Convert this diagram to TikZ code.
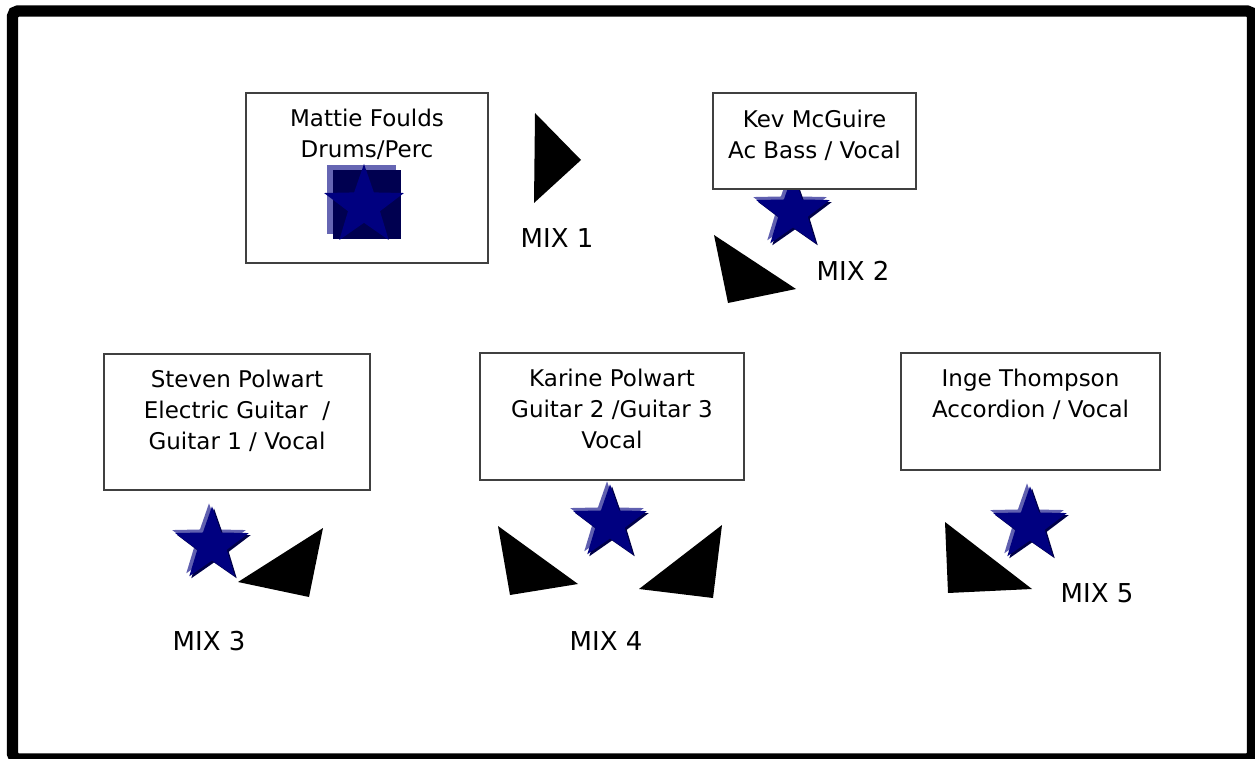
\documentclass[tikz,border=0pt]{standalone}
\usepackage{fontspec}
\setmainfont{DejaVu Sans}
\usepackage{xcolor}
\usetikzlibrary{shapes.geometric, positioning}
\definecolor{starblue}{RGB}{0,0,128}
\definecolor{starlight}{RGB}{96,96,176}
\definecolor{stardark}{RGB}{0,0,72}
\definecolor{padblue}{RGB}{0,0,80}
\definecolor{padlight}{RGB}{102,102,179}
\newcommand{\vocstar}[3]{%
  \node[st,fill=starlight] (#1l) at (#2-3,#3-3) {};
  \node[st,fill=stardark] (#1d) at (#2+2,#3+2) {};
  \node[st] (#1) at (#2,#3) {};}

\begin{document}
\begin{tikzpicture}[x=0.75pt,y=-0.75pt]
\tikzset{
  pb/.style={rectangle,draw=black!75,fill=white,line width=0.9pt,inner sep=0},
  pt/.style={align=center,inner sep=0,font=\fontsize{17.25}{23.25}\selectfont},
  mx/.style={inner sep=0,font=\fontsize{19.5}{23}\selectfont},
  st/.style={star,star points=5,star point ratio=2.5,minimum size=58pt,inner sep=0,fill=starblue},
  wedge/.style={fill=black}
}
\useasboundingbox (0,0) rectangle (1255,759);
\draw[line width=8.5pt,rounded corners=4pt] (12.5,11) rectangle (1252.5,759);
% vocal mics
\vocstar{kevstar}{793}{212}
\vocstar{stevenstar}{212}{545}
\vocstar{karinestar}{610}{523}
\vocstar{ingestar}{1030}{525}
% players
\node[pb,minimum width=181.5pt,minimum height=127.5pt] (mattie) at (367,178) {};
\node[pb,minimum width=152.25pt,minimum height=72pt] (kev) at (814.5,141) {};
\node[pb,minimum width=199.5pt,minimum height=102pt] (steven) at (237,422) {};
\node[pb,minimum width=198pt,minimum height=95.25pt] (karine) at (612,416.5) {};
\node[pb,minimum width=194.25pt,minimum height=87.75pt] (inge) at (1030.5,411.5) {};
\node[pt,below=12pt of mattie.north] (mattiet) {Mattie Foulds\\Drums/Perc};
\node[pt,below=13pt of kev.north] (kevt) {Kev McGuire\\Ac Bass / Vocal};
\node[pt,below=12.5pt of steven.north] (stevent) {Steven Polwart\\Electric Guitar~~/\\Guitar 1 / Vocal};
\node[pt,below=12.5pt of karine.north] (karinet) {Karine Polwart\\Guitar 2 /Guitar 3\\Vocal};
\node[pt,below=12.5pt of inge.north] (inget) {Inge Thompson\\Accordion / Vocal};
% drum kit
\fill[padlight] (327,165) rectangle (396,234);
\fill[padblue] (333,170) rectangle (401,239);
\node[st,minimum size=63pt] (mattiestar) at (364,206) {};
% wedges
\fill[wedge] (535,113) -- (581,160) -- (534,203) -- cycle;
\fill[wedge] (714,235) -- (796,289) -- (728,303) -- cycle;
\fill[wedge] (238,582) -- (323,528) -- (309,597) -- cycle;
\fill[wedge] (498,526) -- (578,584) -- (510,595) -- cycle;
\fill[wedge] (722,525) -- (639,589) -- (713,598) -- cycle;
\fill[wedge] (945,522) -- (1032,589) -- (948,593) -- cycle;
\node[mx] (mix1) at (557,238) {MIX 1};
\node[mx] (mix2) at (853,271) {MIX 2};
\node[mx] (mix3) at (209,641) {MIX 3};
\node[mx] (mix4) at (606,641) {MIX 4};
\node[mx] (mix5) at (1097,593) {MIX 5};
\end{tikzpicture}
\end{document}
